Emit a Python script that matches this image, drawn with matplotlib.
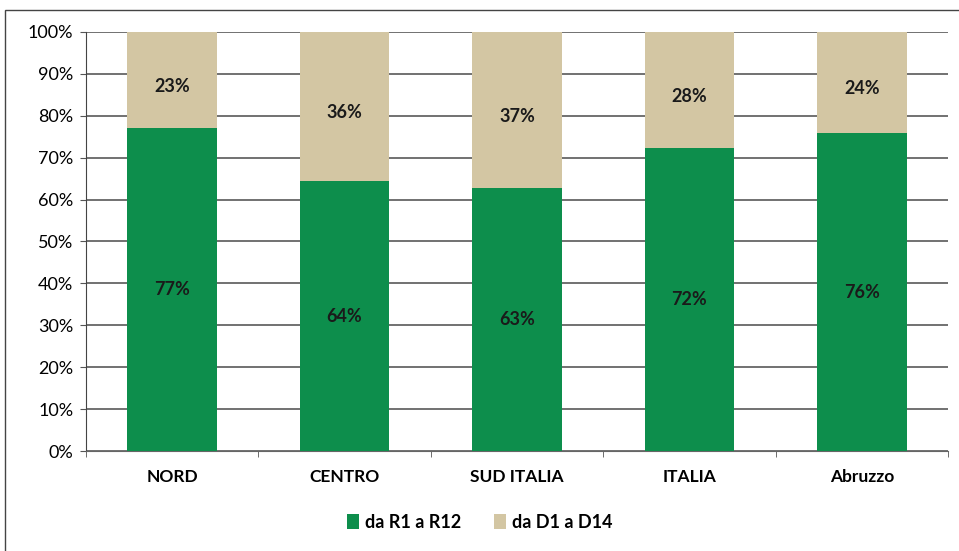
import matplotlib.pyplot as plt
import numpy as np
from matplotlib.patches import Rectangle

# dati
categorie = ['NORD', 'CENTRO', 'SUD ITALIA', 'ITALIA', 'Abruzzo']
quota_r = [77.0, 64.4, 62.7, 72.3, 75.8]     # da R1 a R12
quota_d = [23.0, 35.6, 37.3, 27.7, 24.2]     # da D1 a D14
etichette_r = ['77%', '64%', '63%', '72%', '76%']
etichette_d = ['23%', '36%', '37%', '28%', '24%']

VERDE = '#0d8e4c'
BEIGE = '#d3c6a3'

plt.rcParams['font.family'] = ['Lato', 'DejaVu Sans']

fig = plt.figure(figsize=(9.59, 5.51), dpi=100)
ax = fig.add_axes([86 / 959, 1 - 451 / 551, 862 / 959, 419 / 551])

x = np.arange(len(categorie))
ax.bar(x, quota_r, width=0.52, color=VERDE, label='da R1 a R12', zorder=3)
ax.bar(x, quota_d, width=0.52, bottom=quota_r, color=BEIGE, label='da D1 a D14', zorder=3)

for i in range(len(categorie)):
    ax.text(x[i], quota_r[i] / 2, etichette_r[i], ha='center', va='center',
            fontsize=13, fontweight='bold', color='#1a1a1a', zorder=4)
    ax.text(x[i], quota_r[i] + quota_d[i] / 2 - 1.5, etichette_d[i], ha='center', va='center',
            fontsize=13, fontweight='bold', color='#1a1a1a', zorder=4)

ax.set_xlim(-0.5, len(categorie) - 0.5)
ax.set_ylim(0, 100)
ax.set_yticks(np.arange(0, 101, 10))
ax.set_yticklabels([f'{v}%' for v in range(0, 101, 10)], fontsize=13)
ax.yaxis.grid(True, color='#4a4a4a', linewidth=1.1, zorder=0)

ax.set_xticks(x)
ax.set_xticklabels(categorie, fontsize=12.5, fontweight='bold')
ax.tick_params(axis='x', length=0, pad=13)
ax.set_xticks(np.arange(-0.5, len(categorie)), minor=True)
ax.tick_params(axis='x', which='minor', length=4, color='#555555')
ax.tick_params(axis='y', length=4, color='#555555', pad=5)

for s in ['top', 'right']:
    ax.spines[s].set_visible(False)
ax.spines['left'].set_color('#444444')
ax.spines['bottom'].set_color('#666666')

fig.legend(loc='center', bbox_to_anchor=(0.5, 1 - 522 / 551), ncol=2, frameon=False,
           prop={'weight': 'bold', 'size': 13}, handlelength=0.7, handleheight=0.9,
           columnspacing=1.8, handletextpad=0.3)

# cornice del grafico
fig.patches.append(Rectangle((5 / 959, -0.05), 1.0, 1 - 10 / 551 + 0.05,
                             transform=fig.transFigure, fill=False,
                             edgecolor='#444444', linewidth=1.0))

plt.savefig('out.png', dpi=100)
